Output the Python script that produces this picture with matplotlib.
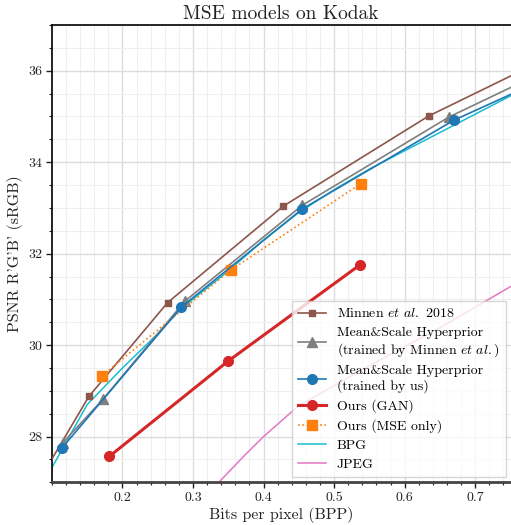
import matplotlib
matplotlib.use("Agg")
import matplotlib.pyplot as plt
from matplotlib.ticker import MultipleLocator, FixedLocator

plt.rcParams['font.family'] = 'serif'
plt.rcParams['font.serif'] = ['cmr10']
plt.rcParams['mathtext.fontset'] = 'cm'
plt.rcParams['axes.formatter.use_mathtext'] = True

# Data
minnen_x = [0.09, 0.1525, 0.264, 0.428, 0.634, 0.80]
minnen_y = [27.25, 28.88, 30.93, 33.04, 35.01, 36.26]

ms_minnen_x = [0.1157, 0.1726, 0.2884, 0.455, 0.663, 0.80]
ms_minnen_y = [27.87, 28.82, 30.96, 33.06, 34.99, 36.0]

ms_us_x = [0.1143, 0.2833, 0.4542, 0.670, 0.80]
ms_us_y = [27.75, 30.83, 32.97, 34.92, 35.83]

gan_x = [0.1816, 0.3497, 0.537]
gan_y = [27.57, 29.65, 31.76]

mse_x = [0.1709, 0.3534, 0.5376]
mse_y = [29.33, 31.64, 33.53]

bpg_x = [0.09, 0.10, 0.15, 0.20, 0.25, 0.2833, 0.35, 0.40, 0.45, 0.50, 0.55, 0.60, 0.65, 0.70, 0.75, 0.80]
bpg_y = [26.95, 27.32, 28.70, 29.50, 30.25, 30.80, 31.62, 32.30, 32.90, 33.40, 33.85, 34.25, 34.65, 35.05, 35.45, 35.82]

jpeg_x = [0.32, 0.3365, 0.375, 0.40, 0.45, 0.55, 0.65, 0.75, 0.80]
jpeg_y = [26.72, 27.0, 27.62, 28.0, 28.68, 29.55, 30.38, 31.28, 31.70]

labels = [
    r'Minnen $\mathit{et\ al.}$ 2018',
    'Mean&Scale Hyperprior\n' + r'(trained by Minnen $\mathit{et\ al.}$)',
    'Mean&Scale Hyperprior\n(trained by us)',
    'Ours (GAN)',
    'Ours (MSE only)',
    'BPG',
    'JPEG',
]

fig = plt.figure(figsize=(5.11, 5.25), dpi=100)
ax = fig.add_axes([0.1016, 0.0813, 0.8975, 0.8711])

ax.plot(minnen_x, minnen_y, color='#8c564b', lw=1.2, marker='s', ms=5, label=labels[0], zorder=3)
ax.plot(ms_minnen_x, ms_minnen_y, color='#7f7f7f', lw=1.2, marker='^', ms=7, label=labels[1], zorder=3)
ax.plot(ms_us_x, ms_us_y, color='#1f77b4', lw=1.2, marker='o', ms=7, label=labels[2], zorder=4)
ax.plot(gan_x, gan_y, color='#d62728', lw=2.2, marker='o', ms=7, label=labels[3], zorder=5)
ax.plot(mse_x, mse_y, color='#ff7f0e', lw=1.2, ls=':', marker='s', ms=7.5, label=labels[4], zorder=3)
ax.plot(bpg_x, bpg_y, color='#17becf', lw=1.1, label=labels[5], zorder=2)
ax.plot(jpeg_x, jpeg_y, color='#e377c2', lw=1.1, label=labels[6], zorder=2)

ax.set_xlim(0.1, 0.75)
ax.set_ylim(27, 37)
ax.xaxis.set_major_locator(FixedLocator([0.2, 0.3, 0.4, 0.5, 0.6, 0.7]))
ax.xaxis.set_minor_locator(MultipleLocator(0.02))
ax.yaxis.set_major_locator(FixedLocator([28, 30, 32, 34, 36]))
ax.yaxis.set_minor_locator(MultipleLocator(0.5))
ax.set_xticklabels(['0.2', '0.3', '0.4', '0.5', '0.6', '0.7'])
ax.set_yticklabels(['28', '30', '32', '34', '36'])

ax.grid(True, which='major', color='#dcdcdc', lw=1.0, zorder=0)
ax.grid(True, which='minor', color='#efefef', lw=0.8, zorder=0)
ax.set_axisbelow(True)
ax.tick_params(which='major', direction='out', length=4, width=1, labelsize=10, colors='#222222', pad=3)
ax.tick_params(which='minor', direction='out', length=2.5, width=0.8, colors='#222222')
for s in ['left', 'top']:
    ax.spines[s].set_color('black')
    ax.spines[s].set_linewidth(1.2)
ax.spines['bottom'].set_color('#444444')
ax.spines['bottom'].set_linewidth(2.0)
ax.spines['right'].set_visible(False)

ax.set_title('MSE models on Kodak', fontsize=14, color='#222222', pad=4)
ax.set_xlabel('Bits per pixel (BPP)', fontsize=11.5, color='#222222', labelpad=2)
ax.set_ylabel("PSNR R'G'B' (sRGB)", fontsize=11.5, color='#222222', labelpad=4)

leg = ax.legend(loc='lower right', fontsize=10, handlelength=2.0, framealpha=0.8,
                edgecolor='#cccccc', fancybox=False, borderpad=0.45, labelspacing=0.45,
                handletextpad=0.8, borderaxespad=0.35)
leg.get_frame().set_linewidth(1.0)

fig.savefig('out.png', dpi=100)
